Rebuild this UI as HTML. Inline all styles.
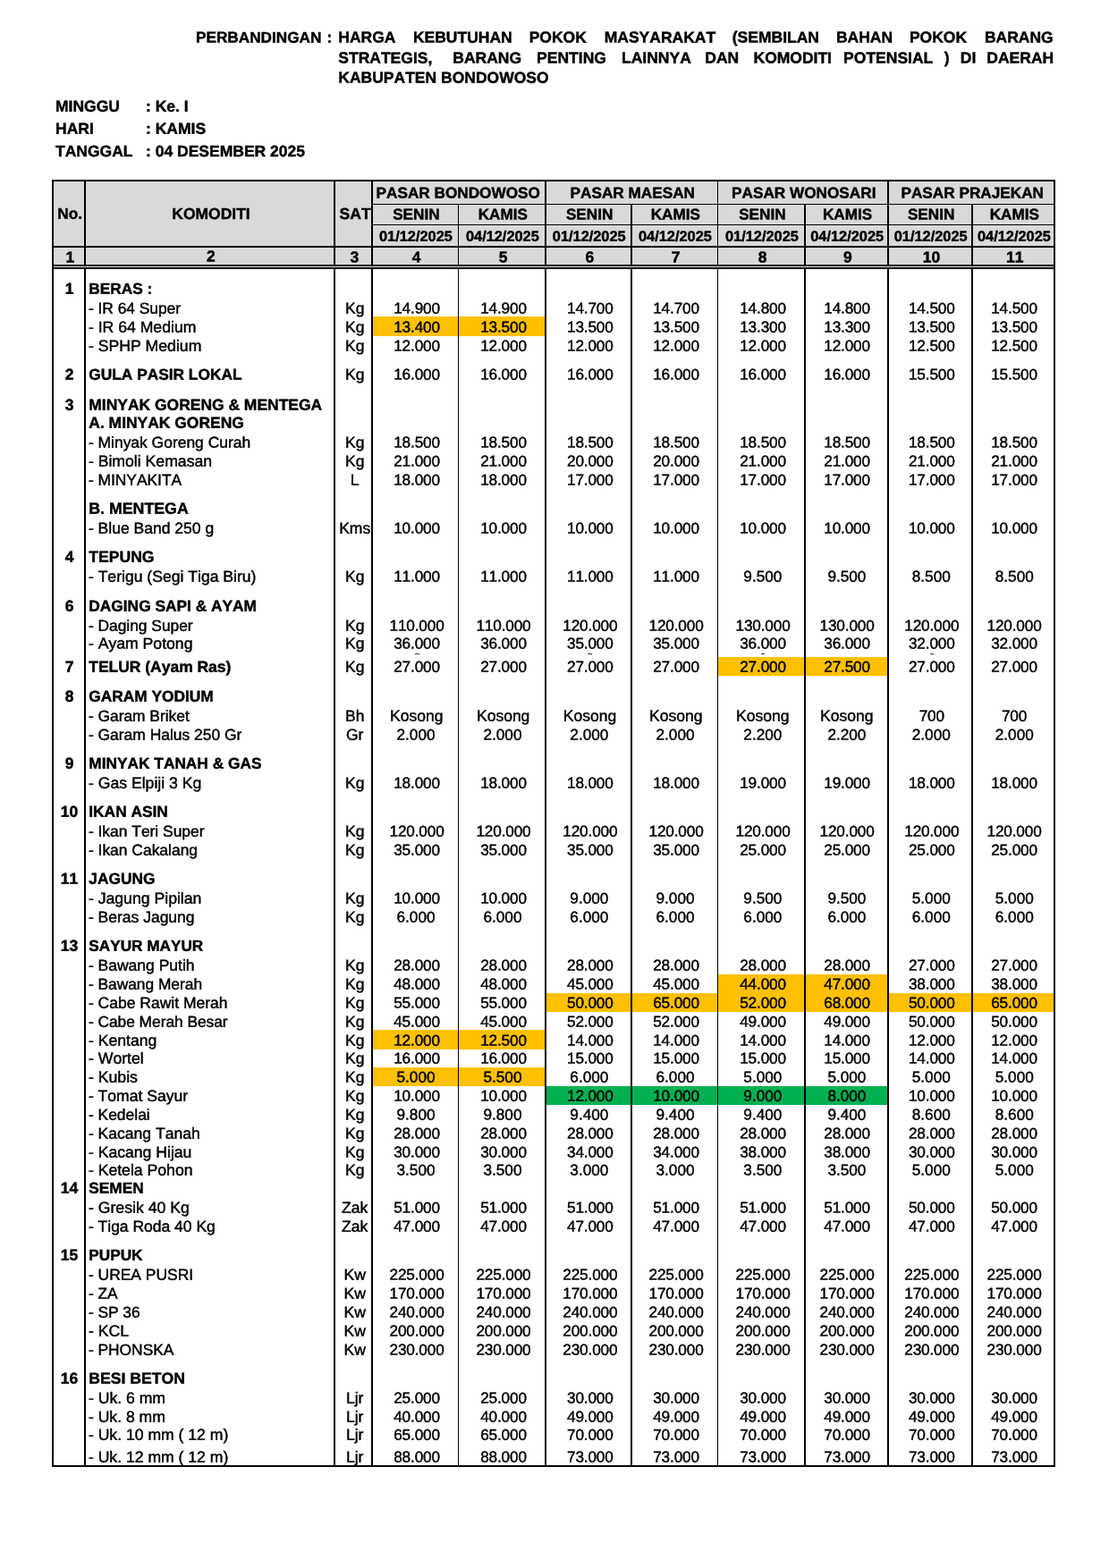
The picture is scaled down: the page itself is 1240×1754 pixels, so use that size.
<!DOCTYPE html>
<html lang="id"><head><meta charset="utf-8"><title>Perbandingan Harga Kebutuhan Pokok Masyarakat</title>
<style>
html,body{margin:0;padding:0;background:#fff}
body{width:1240px;height:1754px;position:relative;overflow:hidden;font-family:"Liberation Sans",sans-serif;color:#000;font-kerning:none;-webkit-text-stroke:0.45px #000;font-size:17.2px}
.t{position:absolute;left:0;top:0;white-space:nowrap;line-height:20px;height:20px;transform-origin:0 0}
.b{font-weight:bold}
.c{text-align:center}
.l{position:absolute;background:#000}
.bg{position:absolute}
</style></head><body>

<div class="t b" style="transform:translate(219.00px,31.60px) rotate(.03deg);font-size:17.20px;">PERBANDINGAN</div>
<div class="t b" style="transform:translate(365.40px,31.60px) rotate(.03deg);font-size:17.20px;">:</div>
<div class="t b" style="transform:translate(378.30px,31.60px) rotate(.03deg);font-size:17.50px;">HARGA</div>
<div class="t b" style="transform:translate(461.90px,31.60px) rotate(.03deg);font-size:17.50px;">KEBUTUHAN</div>
<div class="t b" style="transform:translate(591.70px,31.60px) rotate(.03deg);font-size:17.50px;">POKOK</div>
<div class="t b" style="transform:translate(675.70px,31.60px) rotate(.03deg);font-size:17.50px;">MASYARAKAT</div>
<div class="t b" style="transform:translate(818.80px,31.60px) rotate(.03deg);font-size:17.50px;">(SEMBILAN</div>
<div class="t b" style="transform:translate(934.90px,31.60px) rotate(.03deg);font-size:17.50px;">BAHAN</div>
<div class="t b" style="transform:translate(1016.90px,31.60px) rotate(.03deg);font-size:17.50px;">POKOK</div>
<div class="t b" style="transform:translate(1100.90px,31.60px) rotate(.03deg);font-size:17.50px;">BARANG</div>
<div class="t b" style="transform:translate(378.30px,54.60px) rotate(.03deg);font-size:17.50px;">STRATEGIS,</div>
<div class="t b" style="transform:translate(506.30px,54.60px) rotate(.03deg);font-size:17.50px;">BARANG</div>
<div class="t b" style="transform:translate(600.10px,54.60px) rotate(.03deg);font-size:17.50px;">PENTING</div>
<div class="t b" style="transform:translate(695.00px,54.60px) rotate(.03deg);font-size:17.50px;">LAINNYA</div>
<div class="t b" style="transform:translate(788.30px,54.60px) rotate(.03deg);font-size:17.50px;">DAN</div>
<div class="t b" style="transform:translate(842.50px,54.60px) rotate(.03deg);font-size:17.50px;">KOMODITI</div>
<div class="t b" style="transform:translate(943.10px,54.60px) rotate(.03deg);font-size:17.50px;">POTENSIAL</div>
<div class="t b" style="transform:translate(1055.80px,54.60px) rotate(.03deg);font-size:17.50px;">)</div>
<div class="t b" style="transform:translate(1073.80px,54.60px) rotate(.03deg);font-size:17.50px;">DI</div>
<div class="t b" style="transform:translate(1103.30px,54.60px) rotate(.03deg);font-size:17.50px;">DAERAH</div>
<div class="t b" style="transform:translate(378.30px,76.60px) rotate(.03deg);font-size:17.50px;">KABUPATEN BONDOWOSO</div>
<div class="t b" style="transform:translate(62.00px,108.70px) rotate(.03deg);font-size:17.50px;">MINGGU</div>
<div class="t b" style="transform:translate(163.00px,108.70px) rotate(.03deg);font-size:17.50px;">: Ke. I</div>
<div class="t b" style="transform:translate(62.00px,133.80px) rotate(.03deg);font-size:17.50px;">HARI</div>
<div class="t b" style="transform:translate(163.00px,133.80px) rotate(.03deg);font-size:17.50px;">: KAMIS</div>
<div class="t b" style="transform:translate(62.00px,158.90px) rotate(.03deg);font-size:17.50px;">TANGGAL</div>
<div class="t b" style="transform:translate(163.00px,158.90px) rotate(.03deg);font-size:17.50px;">: 04 DESEMBER 2025</div>
<div class="bg" style="left:59.00px;top:202.00px;width:1120.30px;height:95.00px;background:#d9d9d9"></div>
<div class="bg" style="left:416.00px;top:354.10px;width:193.90px;height:21.60px;background:#ffc000"></div>
<div class="bg" style="left:802.30px;top:734.60px;width:190.50px;height:21.10px;background:#ffc000"></div>
<div class="bg" style="left:802.30px;top:1089.60px;width:190.50px;height:21.10px;background:#ffc000"></div>
<div class="bg" style="left:609.90px;top:1110.60px;width:569.40px;height:21.10px;background:#ffc000"></div>
<div class="bg" style="left:416.00px;top:1151.80px;width:193.90px;height:21.90px;background:#ffc000"></div>
<div class="bg" style="left:416.00px;top:1193.60px;width:193.90px;height:21.10px;background:#ffc000"></div>
<div class="bg" style="left:609.90px;top:1214.60px;width:382.90px;height:21.10px;background:#00b050"></div>
<div class="l" style="left:58.00px;top:201.00px;width:1122.30px;height:2.00px"></div>
<div class="l" style="left:58.20px;top:201.00px;width:1.80px;height:1440.20px"></div>
<div class="l" style="left:1178.40px;top:201.00px;width:1.80px;height:1440.20px"></div>
<div class="l" style="left:58.00px;top:1639.00px;width:1122.30px;height:1.60px"></div>
<div class="l" style="left:93.90px;top:201.00px;width:1.80px;height:1440.20px"></div>
<div class="l" style="left:373.20px;top:201.00px;width:1.60px;height:1440.20px"></div>
<div class="l" style="left:415.20px;top:201.00px;width:1.60px;height:1440.20px"></div>
<div class="l" style="left:511.50px;top:228.00px;width:1.60px;height:1413.20px"></div>
<div class="l" style="left:609.10px;top:201.00px;width:1.60px;height:1440.20px"></div>
<div class="l" style="left:705.20px;top:228.00px;width:1.60px;height:1413.20px"></div>
<div class="l" style="left:801.50px;top:201.00px;width:1.60px;height:1440.20px"></div>
<div class="l" style="left:899.20px;top:228.00px;width:1.60px;height:1413.20px"></div>
<div class="l" style="left:992.00px;top:201.00px;width:1.60px;height:1440.20px"></div>
<div class="l" style="left:1086.20px;top:228.00px;width:1.60px;height:1413.20px"></div>
<div class="l" style="left:416.00px;top:227.70px;width:763.00px;height:1.40px"></div>
<div class="l" style="left:416.00px;top:250.60px;width:763.00px;height:1.50px"></div>
<div class="l" style="left:58.00px;top:275.20px;width:1122.00px;height:1.50px"></div>
<div class="l" style="left:58.00px;top:296.30px;width:1122.00px;height:1.80px"></div>
<div class="l" style="left:58.00px;top:299.30px;width:1122.00px;height:1.40px"></div>
<div class="bg" style="left:60.00px;top:298.10px;width:1118.40px;height:1.20px;background:#e9e9e9"></div>
<div class="bg" style="left:464.3px;top:731.2px;width:4.5px;height:1.3px;background:#333"></div>
<div class="bg" style="left:657.3px;top:731.2px;width:4.5px;height:1.3px;background:#333"></div>
<div class="bg" style="left:850.6px;top:731.2px;width:4.5px;height:1.3px;background:#333"></div>
<div class="bg" style="left:1039.6px;top:731.2px;width:4.5px;height:1.3px;background:#333"></div>
<div class="t b c" style="transform:translate(60.10px,228.70px) rotate(.03deg);width:36.00px;font-size:17.25px;">No.</div>
<div class="t b c" style="transform:translate(96.50px,229.00px) rotate(.03deg);width:279.00px;font-size:17.50px;">KOMODITI</div>
<div class="t b c" style="transform:translate(376.20px,229.00px) rotate(.03deg);width:42.00px;font-size:17.60px;">SAT</div>
<div class="t b c" style="transform:translate(415.30px,205.40px) rotate(.03deg);width:193.90px;font-size:17.20px;">PASAR BONDOWOSO</div>
<div class="t b c" style="transform:translate(417.20px,229.50px) rotate(.03deg);width:96.30px;font-size:17.15px;">SENIN</div>
<div class="t b c" style="transform:translate(416.80px,253.70px) rotate(.03deg);width:96.30px;font-size:16.36px;">01/12/2025</div>
<div class="t b c" style="transform:translate(513.50px,229.50px) rotate(.03deg);width:97.60px;font-size:17.15px;">KAMIS</div>
<div class="t b c" style="transform:translate(513.10px,253.70px) rotate(.03deg);width:97.60px;font-size:16.36px;">04/12/2025</div>
<div class="t b c" style="transform:translate(611.10px,205.40px) rotate(.03deg);width:192.40px;font-size:17.20px;">PASAR MAESAN</div>
<div class="t b c" style="transform:translate(611.10px,229.50px) rotate(.03deg);width:96.10px;font-size:17.15px;">SENIN</div>
<div class="t b c" style="transform:translate(610.70px,253.70px) rotate(.03deg);width:96.10px;font-size:16.36px;">01/12/2025</div>
<div class="t b c" style="transform:translate(707.20px,229.50px) rotate(.03deg);width:96.30px;font-size:17.15px;">KAMIS</div>
<div class="t b c" style="transform:translate(706.80px,253.70px) rotate(.03deg);width:96.30px;font-size:16.36px;">04/12/2025</div>
<div class="t b c" style="transform:translate(803.50px,205.40px) rotate(.03deg);width:190.50px;font-size:17.20px;">PASAR WONOSARI</div>
<div class="t b c" style="transform:translate(803.50px,229.50px) rotate(.03deg);width:97.70px;font-size:17.15px;">SENIN</div>
<div class="t b c" style="transform:translate(803.10px,253.70px) rotate(.03deg);width:97.70px;font-size:16.36px;">01/12/2025</div>
<div class="t b c" style="transform:translate(901.20px,229.50px) rotate(.03deg);width:92.80px;font-size:17.15px;">KAMIS</div>
<div class="t b c" style="transform:translate(900.80px,253.70px) rotate(.03deg);width:92.80px;font-size:16.36px;">04/12/2025</div>
<div class="t b c" style="transform:translate(994.00px,205.40px) rotate(.03deg);width:186.50px;font-size:17.20px;">PASAR PRAJEKAN</div>
<div class="t b c" style="transform:translate(994.00px,229.50px) rotate(.03deg);width:94.20px;font-size:17.15px;">SENIN</div>
<div class="t b c" style="transform:translate(993.60px,253.70px) rotate(.03deg);width:94.20px;font-size:16.36px;">01/12/2025</div>
<div class="t b c" style="transform:translate(1088.20px,229.50px) rotate(.03deg);width:92.30px;font-size:17.15px;">KAMIS</div>
<div class="t b c" style="transform:translate(1087.80px,253.70px) rotate(.03deg);width:92.30px;font-size:16.36px;">04/12/2025</div>
<div class="t b c" style="transform:translate(60.50px,277.40px) rotate(.03deg);width:36.00px;font-size:17.50px;">1</div>
<div class="t b c" style="transform:translate(96.50px,276.40px) rotate(.03deg);width:279.00px;font-size:17.50px;">2</div>
<div class="t b c" style="transform:translate(375.50px,277.40px) rotate(.03deg);width:42.00px;font-size:17.50px;">3</div>
<div class="t b c" style="transform:translate(417.50px,277.40px) rotate(.03deg);width:96.30px;font-size:17.50px;">4</div>
<div class="t b c" style="transform:translate(513.80px,277.40px) rotate(.03deg);width:97.60px;font-size:17.50px;">5</div>
<div class="t b c" style="transform:translate(611.40px,277.40px) rotate(.03deg);width:96.10px;font-size:17.50px;">6</div>
<div class="t b c" style="transform:translate(707.50px,277.40px) rotate(.03deg);width:96.30px;font-size:17.50px;">7</div>
<div class="t b c" style="transform:translate(803.80px,277.40px) rotate(.03deg);width:97.70px;font-size:17.50px;">8</div>
<div class="t b c" style="transform:translate(901.50px,277.40px) rotate(.03deg);width:92.80px;font-size:17.50px;">9</div>
<div class="t b c" style="transform:translate(994.30px,277.40px) rotate(.03deg);width:94.20px;font-size:17.50px;">10</div>
<div class="t b c" style="transform:translate(1088.50px,277.40px) rotate(.03deg);width:92.30px;font-size:17.50px;">11</div>
<div class="t b c" style="transform:translate(59.60px,312.70px) rotate(.03deg);width:36.00px;font-size:17.50px;">1</div>
<div class="t b" style="transform:translate(99.30px,312.70px) rotate(.03deg);font-size:17.28px;">BERAS :</div>
<div class="t " style="transform:translate(98.90px,334.70px) rotate(.03deg);font-size:17.35px;">- IR 64 Super</div>
<div class="t c" style="transform:translate(375.70px,334.70px) rotate(.03deg);width:42.00px;font-size:17.50px;">Kg</div>
<div class="t c" style="transform:translate(417.90px,334.60px) rotate(.03deg);width:96.30px;font-size:17.20px;letter-spacing:-0.15px;">14.900</div>
<div class="t c" style="transform:translate(514.20px,334.60px) rotate(.03deg);width:97.60px;font-size:17.20px;letter-spacing:-0.15px;">14.900</div>
<div class="t c" style="transform:translate(611.80px,334.60px) rotate(.03deg);width:96.10px;font-size:17.20px;letter-spacing:-0.15px;">14.700</div>
<div class="t c" style="transform:translate(707.90px,334.60px) rotate(.03deg);width:96.30px;font-size:17.20px;letter-spacing:-0.15px;">14.700</div>
<div class="t c" style="transform:translate(804.20px,334.60px) rotate(.03deg);width:97.70px;font-size:17.20px;letter-spacing:-0.15px;">14.800</div>
<div class="t c" style="transform:translate(900.70px,334.60px) rotate(.03deg);width:92.80px;font-size:17.20px;letter-spacing:-0.15px;">14.800</div>
<div class="t c" style="transform:translate(994.70px,334.60px) rotate(.03deg);width:94.20px;font-size:17.20px;letter-spacing:-0.15px;">14.500</div>
<div class="t c" style="transform:translate(1087.90px,334.60px) rotate(.03deg);width:92.30px;font-size:17.20px;letter-spacing:-0.15px;">14.500</div>
<div class="t " style="transform:translate(98.90px,355.70px) rotate(.03deg);font-size:17.64px;">- IR 64 Medium</div>
<div class="t c" style="transform:translate(375.70px,355.70px) rotate(.03deg);width:42.00px;font-size:17.50px;">Kg</div>
<div class="t c" style="transform:translate(417.90px,355.60px) rotate(.03deg);width:96.30px;font-size:17.20px;letter-spacing:-0.15px;">13.400</div>
<div class="t c" style="transform:translate(514.20px,355.60px) rotate(.03deg);width:97.60px;font-size:17.20px;letter-spacing:-0.15px;">13.500</div>
<div class="t c" style="transform:translate(611.80px,355.60px) rotate(.03deg);width:96.10px;font-size:17.20px;letter-spacing:-0.15px;">13.500</div>
<div class="t c" style="transform:translate(707.90px,355.60px) rotate(.03deg);width:96.30px;font-size:17.20px;letter-spacing:-0.15px;">13.500</div>
<div class="t c" style="transform:translate(804.20px,355.60px) rotate(.03deg);width:97.70px;font-size:17.20px;letter-spacing:-0.15px;">13.300</div>
<div class="t c" style="transform:translate(900.70px,355.60px) rotate(.03deg);width:92.80px;font-size:17.20px;letter-spacing:-0.15px;">13.300</div>
<div class="t c" style="transform:translate(994.70px,355.60px) rotate(.03deg);width:94.20px;font-size:17.20px;letter-spacing:-0.15px;">13.500</div>
<div class="t c" style="transform:translate(1087.90px,355.60px) rotate(.03deg);width:92.30px;font-size:17.20px;letter-spacing:-0.15px;">13.500</div>
<div class="t " style="transform:translate(98.90px,376.70px) rotate(.03deg);font-size:17.65px;">- SPHP Medium</div>
<div class="t c" style="transform:translate(375.70px,376.70px) rotate(.03deg);width:42.00px;font-size:17.50px;">Kg</div>
<div class="t c" style="transform:translate(417.90px,376.60px) rotate(.03deg);width:96.30px;font-size:17.20px;letter-spacing:-0.15px;">12.000</div>
<div class="t c" style="transform:translate(514.20px,376.60px) rotate(.03deg);width:97.60px;font-size:17.20px;letter-spacing:-0.15px;">12.000</div>
<div class="t c" style="transform:translate(611.80px,376.60px) rotate(.03deg);width:96.10px;font-size:17.20px;letter-spacing:-0.15px;">12.000</div>
<div class="t c" style="transform:translate(707.90px,376.60px) rotate(.03deg);width:96.30px;font-size:17.20px;letter-spacing:-0.15px;">12.000</div>
<div class="t c" style="transform:translate(804.20px,376.60px) rotate(.03deg);width:97.70px;font-size:17.20px;letter-spacing:-0.15px;">12.000</div>
<div class="t c" style="transform:translate(900.70px,376.60px) rotate(.03deg);width:92.80px;font-size:17.20px;letter-spacing:-0.15px;">12.000</div>
<div class="t c" style="transform:translate(994.70px,376.60px) rotate(.03deg);width:94.20px;font-size:17.20px;letter-spacing:-0.15px;">12.500</div>
<div class="t c" style="transform:translate(1087.90px,376.60px) rotate(.03deg);width:92.30px;font-size:17.20px;letter-spacing:-0.15px;">12.500</div>
<div class="t b c" style="transform:translate(59.60px,408.70px) rotate(.03deg);width:36.00px;font-size:17.50px;">2</div>
<div class="t b" style="transform:translate(99.30px,408.70px) rotate(.03deg);font-size:17.32px;">GULA PASIR LOKAL</div>
<div class="t c" style="transform:translate(375.70px,408.70px) rotate(.03deg);width:42.00px;font-size:17.50px;">Kg</div>
<div class="t c" style="transform:translate(417.90px,408.60px) rotate(.03deg);width:96.30px;font-size:17.20px;letter-spacing:-0.15px;">16.000</div>
<div class="t c" style="transform:translate(514.20px,408.60px) rotate(.03deg);width:97.60px;font-size:17.20px;letter-spacing:-0.15px;">16.000</div>
<div class="t c" style="transform:translate(611.80px,408.60px) rotate(.03deg);width:96.10px;font-size:17.20px;letter-spacing:-0.15px;">16.000</div>
<div class="t c" style="transform:translate(707.90px,408.60px) rotate(.03deg);width:96.30px;font-size:17.20px;letter-spacing:-0.15px;">16.000</div>
<div class="t c" style="transform:translate(804.20px,408.60px) rotate(.03deg);width:97.70px;font-size:17.20px;letter-spacing:-0.15px;">16.000</div>
<div class="t c" style="transform:translate(900.70px,408.60px) rotate(.03deg);width:92.80px;font-size:17.20px;letter-spacing:-0.15px;">16.000</div>
<div class="t c" style="transform:translate(994.70px,408.60px) rotate(.03deg);width:94.20px;font-size:17.20px;letter-spacing:-0.15px;">15.500</div>
<div class="t c" style="transform:translate(1087.90px,408.60px) rotate(.03deg);width:92.30px;font-size:17.20px;letter-spacing:-0.15px;">15.500</div>
<div class="t b c" style="transform:translate(59.60px,442.70px) rotate(.03deg);width:36.00px;font-size:17.50px;">3</div>
<div class="t b" style="transform:translate(99.30px,442.70px) rotate(.03deg);font-size:17.47px;">MINYAK GORENG &amp; MENTEGA</div>
<div class="t b" style="transform:translate(99.30px,462.70px) rotate(.03deg);font-size:17.45px;">A. MINYAK GORENG</div>
<div class="t " style="transform:translate(98.90px,484.70px) rotate(.03deg);font-size:17.46px;">- Minyak Goreng Curah</div>
<div class="t c" style="transform:translate(375.70px,484.70px) rotate(.03deg);width:42.00px;font-size:17.50px;">Kg</div>
<div class="t c" style="transform:translate(417.90px,484.60px) rotate(.03deg);width:96.30px;font-size:17.20px;letter-spacing:-0.15px;">18.500</div>
<div class="t c" style="transform:translate(514.20px,484.60px) rotate(.03deg);width:97.60px;font-size:17.20px;letter-spacing:-0.15px;">18.500</div>
<div class="t c" style="transform:translate(611.80px,484.60px) rotate(.03deg);width:96.10px;font-size:17.20px;letter-spacing:-0.15px;">18.500</div>
<div class="t c" style="transform:translate(707.90px,484.60px) rotate(.03deg);width:96.30px;font-size:17.20px;letter-spacing:-0.15px;">18.500</div>
<div class="t c" style="transform:translate(804.20px,484.60px) rotate(.03deg);width:97.70px;font-size:17.20px;letter-spacing:-0.15px;">18.500</div>
<div class="t c" style="transform:translate(900.70px,484.60px) rotate(.03deg);width:92.80px;font-size:17.20px;letter-spacing:-0.15px;">18.500</div>
<div class="t c" style="transform:translate(994.70px,484.60px) rotate(.03deg);width:94.20px;font-size:17.20px;letter-spacing:-0.15px;">18.500</div>
<div class="t c" style="transform:translate(1087.90px,484.60px) rotate(.03deg);width:92.30px;font-size:17.20px;letter-spacing:-0.15px;">18.500</div>
<div class="t " style="transform:translate(98.90px,505.70px) rotate(.03deg);font-size:17.65px;">- Bimoli Kemasan</div>
<div class="t c" style="transform:translate(375.70px,505.70px) rotate(.03deg);width:42.00px;font-size:17.50px;">Kg</div>
<div class="t c" style="transform:translate(417.90px,505.60px) rotate(.03deg);width:96.30px;font-size:17.20px;letter-spacing:-0.15px;">21.000</div>
<div class="t c" style="transform:translate(514.20px,505.60px) rotate(.03deg);width:97.60px;font-size:17.20px;letter-spacing:-0.15px;">21.000</div>
<div class="t c" style="transform:translate(611.80px,505.60px) rotate(.03deg);width:96.10px;font-size:17.20px;letter-spacing:-0.15px;">20.000</div>
<div class="t c" style="transform:translate(707.90px,505.60px) rotate(.03deg);width:96.30px;font-size:17.20px;letter-spacing:-0.15px;">20.000</div>
<div class="t c" style="transform:translate(804.20px,505.60px) rotate(.03deg);width:97.70px;font-size:17.20px;letter-spacing:-0.15px;">21.000</div>
<div class="t c" style="transform:translate(900.70px,505.60px) rotate(.03deg);width:92.80px;font-size:17.20px;letter-spacing:-0.15px;">21.000</div>
<div class="t c" style="transform:translate(994.70px,505.60px) rotate(.03deg);width:94.20px;font-size:17.20px;letter-spacing:-0.15px;">21.000</div>
<div class="t c" style="transform:translate(1087.90px,505.60px) rotate(.03deg);width:92.30px;font-size:17.20px;letter-spacing:-0.15px;">21.000</div>
<div class="t " style="transform:translate(98.90px,526.70px) rotate(.03deg);font-size:17.39px;">- MINYAKITA</div>
<div class="t c" style="transform:translate(375.70px,526.70px) rotate(.03deg);width:42.00px;font-size:17.50px;">L</div>
<div class="t c" style="transform:translate(417.90px,526.60px) rotate(.03deg);width:96.30px;font-size:17.20px;letter-spacing:-0.15px;">18.000</div>
<div class="t c" style="transform:translate(514.20px,526.60px) rotate(.03deg);width:97.60px;font-size:17.20px;letter-spacing:-0.15px;">18.000</div>
<div class="t c" style="transform:translate(611.80px,526.60px) rotate(.03deg);width:96.10px;font-size:17.20px;letter-spacing:-0.15px;">17.000</div>
<div class="t c" style="transform:translate(707.90px,526.60px) rotate(.03deg);width:96.30px;font-size:17.20px;letter-spacing:-0.15px;">17.000</div>
<div class="t c" style="transform:translate(804.20px,526.60px) rotate(.03deg);width:97.70px;font-size:17.20px;letter-spacing:-0.15px;">17.000</div>
<div class="t c" style="transform:translate(900.70px,526.60px) rotate(.03deg);width:92.80px;font-size:17.20px;letter-spacing:-0.15px;">17.000</div>
<div class="t c" style="transform:translate(994.70px,526.60px) rotate(.03deg);width:94.20px;font-size:17.20px;letter-spacing:-0.15px;">17.000</div>
<div class="t c" style="transform:translate(1087.90px,526.60px) rotate(.03deg);width:92.30px;font-size:17.20px;letter-spacing:-0.15px;">17.000</div>
<div class="t b" style="transform:translate(99.30px,558.70px) rotate(.03deg);font-size:17.75px;">B. MENTEGA</div>
<div class="t " style="transform:translate(98.90px,580.70px) rotate(.03deg);font-size:17.52px;">- Blue Band 250 g</div>
<div class="t c" style="transform:translate(375.70px,580.70px) rotate(.03deg);width:42.00px;font-size:17.50px;">Kms</div>
<div class="t c" style="transform:translate(417.90px,580.60px) rotate(.03deg);width:96.30px;font-size:17.20px;letter-spacing:-0.15px;">10.000</div>
<div class="t c" style="transform:translate(514.20px,580.60px) rotate(.03deg);width:97.60px;font-size:17.20px;letter-spacing:-0.15px;">10.000</div>
<div class="t c" style="transform:translate(611.80px,580.60px) rotate(.03deg);width:96.10px;font-size:17.20px;letter-spacing:-0.15px;">10.000</div>
<div class="t c" style="transform:translate(707.90px,580.60px) rotate(.03deg);width:96.30px;font-size:17.20px;letter-spacing:-0.15px;">10.000</div>
<div class="t c" style="transform:translate(804.20px,580.60px) rotate(.03deg);width:97.70px;font-size:17.20px;letter-spacing:-0.15px;">10.000</div>
<div class="t c" style="transform:translate(900.70px,580.60px) rotate(.03deg);width:92.80px;font-size:17.20px;letter-spacing:-0.15px;">10.000</div>
<div class="t c" style="transform:translate(994.70px,580.60px) rotate(.03deg);width:94.20px;font-size:17.20px;letter-spacing:-0.15px;">10.000</div>
<div class="t c" style="transform:translate(1087.90px,580.60px) rotate(.03deg);width:92.30px;font-size:17.20px;letter-spacing:-0.15px;">10.000</div>
<div class="t b c" style="transform:translate(59.60px,612.70px) rotate(.03deg);width:36.00px;font-size:17.50px;">4</div>
<div class="t b" style="transform:translate(99.30px,612.70px) rotate(.03deg);font-size:17.58px;">TEPUNG</div>
<div class="t " style="transform:translate(98.90px,634.70px) rotate(.03deg);font-size:17.58px;">- Terigu (Segi Tiga Biru)</div>
<div class="t c" style="transform:translate(375.70px,634.70px) rotate(.03deg);width:42.00px;font-size:17.50px;">Kg</div>
<div class="t c" style="transform:translate(417.90px,634.60px) rotate(.03deg);width:96.30px;font-size:17.20px;letter-spacing:-0.15px;">11.000</div>
<div class="t c" style="transform:translate(514.20px,634.60px) rotate(.03deg);width:97.60px;font-size:17.20px;letter-spacing:-0.15px;">11.000</div>
<div class="t c" style="transform:translate(611.80px,634.60px) rotate(.03deg);width:96.10px;font-size:17.20px;letter-spacing:-0.15px;">11.000</div>
<div class="t c" style="transform:translate(707.90px,634.60px) rotate(.03deg);width:96.30px;font-size:17.20px;letter-spacing:-0.15px;">11.000</div>
<div class="t c" style="transform:translate(804.00px,634.60px) rotate(.03deg);width:97.70px;font-size:17.20px;">9.500</div>
<div class="t c" style="transform:translate(900.50px,634.60px) rotate(.03deg);width:92.80px;font-size:17.20px;">9.500</div>
<div class="t c" style="transform:translate(994.20px,634.60px) rotate(.03deg);width:94.20px;font-size:17.20px;">8.500</div>
<div class="t c" style="transform:translate(1088.10px,634.60px) rotate(.03deg);width:92.30px;font-size:17.20px;">8.500</div>
<div class="t b c" style="transform:translate(59.60px,667.70px) rotate(.03deg);width:36.00px;font-size:17.50px;">6</div>
<div class="t b" style="transform:translate(99.30px,667.70px) rotate(.03deg);font-size:17.33px;">DAGING SAPI &amp; AYAM</div>
<div class="t " style="transform:translate(98.90px,689.70px) rotate(.03deg);font-size:17.38px;">- Daging Super</div>
<div class="t c" style="transform:translate(375.70px,689.70px) rotate(.03deg);width:42.00px;font-size:17.50px;">Kg</div>
<div class="t c" style="transform:translate(417.90px,689.60px) rotate(.03deg);width:96.30px;font-size:17.20px;letter-spacing:-0.15px;">110.000</div>
<div class="t c" style="transform:translate(514.20px,689.60px) rotate(.03deg);width:97.60px;font-size:17.20px;letter-spacing:-0.15px;">110.000</div>
<div class="t c" style="transform:translate(611.80px,689.60px) rotate(.03deg);width:96.10px;font-size:17.20px;letter-spacing:-0.15px;">120.000</div>
<div class="t c" style="transform:translate(707.90px,689.60px) rotate(.03deg);width:96.30px;font-size:17.20px;letter-spacing:-0.15px;">120.000</div>
<div class="t c" style="transform:translate(804.20px,689.60px) rotate(.03deg);width:97.70px;font-size:17.20px;letter-spacing:-0.15px;">130.000</div>
<div class="t c" style="transform:translate(900.70px,689.60px) rotate(.03deg);width:92.80px;font-size:17.20px;letter-spacing:-0.15px;">130.000</div>
<div class="t c" style="transform:translate(994.70px,689.60px) rotate(.03deg);width:94.20px;font-size:17.20px;letter-spacing:-0.15px;">120.000</div>
<div class="t c" style="transform:translate(1087.90px,689.60px) rotate(.03deg);width:92.30px;font-size:17.20px;letter-spacing:-0.15px;">120.000</div>
<div class="t " style="transform:translate(98.90px,709.60px) rotate(.03deg);font-size:17.64px;">- Ayam Potong</div>
<div class="t c" style="transform:translate(375.70px,709.60px) rotate(.03deg);width:42.00px;font-size:17.50px;">Kg</div>
<div class="t c" style="transform:translate(417.90px,709.50px) rotate(.03deg);width:96.30px;font-size:17.20px;letter-spacing:-0.15px;">36.000</div>
<div class="t c" style="transform:translate(514.20px,709.50px) rotate(.03deg);width:97.60px;font-size:17.20px;letter-spacing:-0.15px;">36.000</div>
<div class="t c" style="transform:translate(611.80px,709.50px) rotate(.03deg);width:96.10px;font-size:17.20px;letter-spacing:-0.15px;">35.000</div>
<div class="t c" style="transform:translate(707.90px,709.50px) rotate(.03deg);width:96.30px;font-size:17.20px;letter-spacing:-0.15px;">35.000</div>
<div class="t c" style="transform:translate(804.20px,709.50px) rotate(.03deg);width:97.70px;font-size:17.20px;letter-spacing:-0.15px;">36.000</div>
<div class="t c" style="transform:translate(900.70px,709.50px) rotate(.03deg);width:92.80px;font-size:17.20px;letter-spacing:-0.15px;">36.000</div>
<div class="t c" style="transform:translate(994.70px,709.50px) rotate(.03deg);width:94.20px;font-size:17.20px;letter-spacing:-0.15px;">32.000</div>
<div class="t c" style="transform:translate(1087.90px,709.50px) rotate(.03deg);width:92.30px;font-size:17.20px;letter-spacing:-0.15px;">32.000</div>
<div class="t b c" style="transform:translate(59.60px,735.70px) rotate(.03deg);width:36.00px;font-size:17.50px;">7</div>
<div class="t b" style="transform:translate(99.30px,735.70px) rotate(.03deg);font-size:17.45px;">TELUR (Ayam Ras)</div>
<div class="t c" style="transform:translate(375.70px,735.70px) rotate(.03deg);width:42.00px;font-size:17.50px;">Kg</div>
<div class="t c" style="transform:translate(417.90px,735.60px) rotate(.03deg);width:96.30px;font-size:17.20px;letter-spacing:-0.15px;">27.000</div>
<div class="t c" style="transform:translate(514.20px,735.60px) rotate(.03deg);width:97.60px;font-size:17.20px;letter-spacing:-0.15px;">27.000</div>
<div class="t c" style="transform:translate(611.80px,735.60px) rotate(.03deg);width:96.10px;font-size:17.20px;letter-spacing:-0.15px;">27.000</div>
<div class="t c" style="transform:translate(707.90px,735.60px) rotate(.03deg);width:96.30px;font-size:17.20px;letter-spacing:-0.15px;">27.000</div>
<div class="t c" style="transform:translate(804.20px,735.60px) rotate(.03deg);width:97.70px;font-size:17.20px;letter-spacing:-0.15px;">27.000</div>
<div class="t c" style="transform:translate(900.70px,735.60px) rotate(.03deg);width:92.80px;font-size:17.20px;letter-spacing:-0.15px;">27.500</div>
<div class="t c" style="transform:translate(994.70px,735.60px) rotate(.03deg);width:94.20px;font-size:17.20px;letter-spacing:-0.15px;">27.000</div>
<div class="t c" style="transform:translate(1087.90px,735.60px) rotate(.03deg);width:92.30px;font-size:17.20px;letter-spacing:-0.15px;">27.000</div>
<div class="t b c" style="transform:translate(59.60px,768.70px) rotate(.03deg);width:36.00px;font-size:17.50px;">8</div>
<div class="t b" style="transform:translate(99.30px,768.70px) rotate(.03deg);font-size:17.32px;">GARAM YODIUM</div>
<div class="t " style="transform:translate(98.90px,790.70px) rotate(.03deg);font-size:17.38px;">- Garam Briket</div>
<div class="t c" style="transform:translate(375.70px,790.70px) rotate(.03deg);width:42.00px;font-size:17.50px;">Bh</div>
<div class="t c" style="transform:translate(417.60px,790.60px) rotate(.03deg);width:96.30px;font-size:17.50px;">Kosong</div>
<div class="t c" style="transform:translate(513.90px,790.60px) rotate(.03deg);width:97.60px;font-size:17.50px;">Kosong</div>
<div class="t c" style="transform:translate(611.50px,790.60px) rotate(.03deg);width:96.10px;font-size:17.50px;">Kosong</div>
<div class="t c" style="transform:translate(707.60px,790.60px) rotate(.03deg);width:96.30px;font-size:17.50px;">Kosong</div>
<div class="t c" style="transform:translate(803.90px,790.60px) rotate(.03deg);width:97.70px;font-size:17.50px;">Kosong</div>
<div class="t c" style="transform:translate(900.40px,790.60px) rotate(.03deg);width:92.80px;font-size:17.50px;">Kosong</div>
<div class="t c" style="transform:translate(994.70px,790.60px) rotate(.03deg);width:94.20px;font-size:17.20px;letter-spacing:-0.15px;">700</div>
<div class="t c" style="transform:translate(1087.90px,790.60px) rotate(.03deg);width:92.30px;font-size:17.20px;letter-spacing:-0.15px;">700</div>
<div class="t " style="transform:translate(98.90px,811.70px) rotate(.03deg);font-size:17.47px;">- Garam Halus 250 Gr</div>
<div class="t c" style="transform:translate(375.70px,811.70px) rotate(.03deg);width:42.00px;font-size:17.50px;">Gr</div>
<div class="t c" style="transform:translate(416.90px,811.60px) rotate(.03deg);width:96.30px;font-size:17.20px;">2.000</div>
<div class="t c" style="transform:translate(513.20px,811.60px) rotate(.03deg);width:97.60px;font-size:17.20px;">2.000</div>
<div class="t c" style="transform:translate(610.80px,811.60px) rotate(.03deg);width:96.10px;font-size:17.20px;">2.000</div>
<div class="t c" style="transform:translate(706.90px,811.60px) rotate(.03deg);width:96.30px;font-size:17.20px;">2.000</div>
<div class="t c" style="transform:translate(804.00px,811.60px) rotate(.03deg);width:97.70px;font-size:17.20px;">2.200</div>
<div class="t c" style="transform:translate(900.50px,811.60px) rotate(.03deg);width:92.80px;font-size:17.20px;">2.200</div>
<div class="t c" style="transform:translate(994.20px,811.60px) rotate(.03deg);width:94.20px;font-size:17.20px;">2.000</div>
<div class="t c" style="transform:translate(1088.10px,811.60px) rotate(.03deg);width:92.30px;font-size:17.20px;">2.000</div>
<div class="t b c" style="transform:translate(59.60px,843.70px) rotate(.03deg);width:36.00px;font-size:17.50px;">9</div>
<div class="t b" style="transform:translate(99.30px,843.70px) rotate(.03deg);font-size:17.31px;">MINYAK TANAH &amp; GAS</div>
<div class="t " style="transform:translate(98.90px,865.70px) rotate(.03deg);font-size:17.65px;">- Gas Elpiji 3 Kg</div>
<div class="t c" style="transform:translate(375.70px,865.70px) rotate(.03deg);width:42.00px;font-size:17.50px;">Kg</div>
<div class="t c" style="transform:translate(417.90px,865.60px) rotate(.03deg);width:96.30px;font-size:17.20px;letter-spacing:-0.15px;">18.000</div>
<div class="t c" style="transform:translate(514.20px,865.60px) rotate(.03deg);width:97.60px;font-size:17.20px;letter-spacing:-0.15px;">18.000</div>
<div class="t c" style="transform:translate(611.80px,865.60px) rotate(.03deg);width:96.10px;font-size:17.20px;letter-spacing:-0.15px;">18.000</div>
<div class="t c" style="transform:translate(707.90px,865.60px) rotate(.03deg);width:96.30px;font-size:17.20px;letter-spacing:-0.15px;">18.000</div>
<div class="t c" style="transform:translate(804.20px,865.60px) rotate(.03deg);width:97.70px;font-size:17.20px;letter-spacing:-0.15px;">19.000</div>
<div class="t c" style="transform:translate(900.70px,865.60px) rotate(.03deg);width:92.80px;font-size:17.20px;letter-spacing:-0.15px;">19.000</div>
<div class="t c" style="transform:translate(994.70px,865.60px) rotate(.03deg);width:94.20px;font-size:17.20px;letter-spacing:-0.15px;">18.000</div>
<div class="t c" style="transform:translate(1087.90px,865.60px) rotate(.03deg);width:92.30px;font-size:17.20px;letter-spacing:-0.15px;">18.000</div>
<div class="t b c" style="transform:translate(59.60px,897.70px) rotate(.03deg);width:36.00px;font-size:17.50px;">10</div>
<div class="t b" style="transform:translate(99.30px,897.70px) rotate(.03deg);font-size:17.34px;">IKAN ASIN</div>
<div class="t " style="transform:translate(98.90px,919.70px) rotate(.03deg);font-size:17.41px;">- Ikan Teri Super</div>
<div class="t c" style="transform:translate(375.70px,919.70px) rotate(.03deg);width:42.00px;font-size:17.50px;">Kg</div>
<div class="t c" style="transform:translate(417.90px,919.60px) rotate(.03deg);width:96.30px;font-size:17.20px;letter-spacing:-0.15px;">120.000</div>
<div class="t c" style="transform:translate(514.20px,919.60px) rotate(.03deg);width:97.60px;font-size:17.20px;letter-spacing:-0.15px;">120.000</div>
<div class="t c" style="transform:translate(611.80px,919.60px) rotate(.03deg);width:96.10px;font-size:17.20px;letter-spacing:-0.15px;">120.000</div>
<div class="t c" style="transform:translate(707.90px,919.60px) rotate(.03deg);width:96.30px;font-size:17.20px;letter-spacing:-0.15px;">120.000</div>
<div class="t c" style="transform:translate(804.20px,919.60px) rotate(.03deg);width:97.70px;font-size:17.20px;letter-spacing:-0.15px;">120.000</div>
<div class="t c" style="transform:translate(900.70px,919.60px) rotate(.03deg);width:92.80px;font-size:17.20px;letter-spacing:-0.15px;">120.000</div>
<div class="t c" style="transform:translate(994.70px,919.60px) rotate(.03deg);width:94.20px;font-size:17.20px;letter-spacing:-0.15px;">120.000</div>
<div class="t c" style="transform:translate(1087.90px,919.60px) rotate(.03deg);width:92.30px;font-size:17.20px;letter-spacing:-0.15px;">120.000</div>
<div class="t " style="transform:translate(98.90px,940.70px) rotate(.03deg);font-size:17.46px;">- Ikan Cakalang</div>
<div class="t c" style="transform:translate(375.70px,940.70px) rotate(.03deg);width:42.00px;font-size:17.50px;">Kg</div>
<div class="t c" style="transform:translate(417.90px,940.60px) rotate(.03deg);width:96.30px;font-size:17.20px;letter-spacing:-0.15px;">35.000</div>
<div class="t c" style="transform:translate(514.20px,940.60px) rotate(.03deg);width:97.60px;font-size:17.20px;letter-spacing:-0.15px;">35.000</div>
<div class="t c" style="transform:translate(611.80px,940.60px) rotate(.03deg);width:96.10px;font-size:17.20px;letter-spacing:-0.15px;">35.000</div>
<div class="t c" style="transform:translate(707.90px,940.60px) rotate(.03deg);width:96.30px;font-size:17.20px;letter-spacing:-0.15px;">35.000</div>
<div class="t c" style="transform:translate(804.20px,940.60px) rotate(.03deg);width:97.70px;font-size:17.20px;letter-spacing:-0.15px;">25.000</div>
<div class="t c" style="transform:translate(900.70px,940.60px) rotate(.03deg);width:92.80px;font-size:17.20px;letter-spacing:-0.15px;">25.000</div>
<div class="t c" style="transform:translate(994.70px,940.60px) rotate(.03deg);width:94.20px;font-size:17.20px;letter-spacing:-0.15px;">25.000</div>
<div class="t c" style="transform:translate(1087.90px,940.60px) rotate(.03deg);width:92.30px;font-size:17.20px;letter-spacing:-0.15px;">25.000</div>
<div class="t b c" style="transform:translate(59.60px,972.70px) rotate(.03deg);width:36.00px;font-size:17.50px;">11</div>
<div class="t b" style="transform:translate(99.30px,972.70px) rotate(.03deg);font-size:17.33px;">JAGUNG</div>
<div class="t " style="transform:translate(98.90px,994.70px) rotate(.03deg);font-size:17.65px;">- Jagung Pipilan</div>
<div class="t c" style="transform:translate(375.70px,994.70px) rotate(.03deg);width:42.00px;font-size:17.50px;">Kg</div>
<div class="t c" style="transform:translate(417.90px,994.60px) rotate(.03deg);width:96.30px;font-size:17.20px;letter-spacing:-0.15px;">10.000</div>
<div class="t c" style="transform:translate(514.20px,994.60px) rotate(.03deg);width:97.60px;font-size:17.20px;letter-spacing:-0.15px;">10.000</div>
<div class="t c" style="transform:translate(610.80px,994.60px) rotate(.03deg);width:96.10px;font-size:17.20px;">9.000</div>
<div class="t c" style="transform:translate(706.90px,994.60px) rotate(.03deg);width:96.30px;font-size:17.20px;">9.000</div>
<div class="t c" style="transform:translate(804.00px,994.60px) rotate(.03deg);width:97.70px;font-size:17.20px;">9.500</div>
<div class="t c" style="transform:translate(900.50px,994.60px) rotate(.03deg);width:92.80px;font-size:17.20px;">9.500</div>
<div class="t c" style="transform:translate(994.20px,994.60px) rotate(.03deg);width:94.20px;font-size:17.20px;">5.000</div>
<div class="t c" style="transform:translate(1088.10px,994.60px) rotate(.03deg);width:92.30px;font-size:17.20px;">5.000</div>
<div class="t " style="transform:translate(98.90px,1015.70px) rotate(.03deg);font-size:17.50px;">- Beras Jagung</div>
<div class="t c" style="transform:translate(375.70px,1015.70px) rotate(.03deg);width:42.00px;font-size:17.50px;">Kg</div>
<div class="t c" style="transform:translate(416.90px,1015.60px) rotate(.03deg);width:96.30px;font-size:17.20px;">6.000</div>
<div class="t c" style="transform:translate(513.20px,1015.60px) rotate(.03deg);width:97.60px;font-size:17.20px;">6.000</div>
<div class="t c" style="transform:translate(610.80px,1015.60px) rotate(.03deg);width:96.10px;font-size:17.20px;">6.000</div>
<div class="t c" style="transform:translate(706.90px,1015.60px) rotate(.03deg);width:96.30px;font-size:17.20px;">6.000</div>
<div class="t c" style="transform:translate(804.00px,1015.60px) rotate(.03deg);width:97.70px;font-size:17.20px;">6.000</div>
<div class="t c" style="transform:translate(900.50px,1015.60px) rotate(.03deg);width:92.80px;font-size:17.20px;">6.000</div>
<div class="t c" style="transform:translate(994.20px,1015.60px) rotate(.03deg);width:94.20px;font-size:17.20px;">6.000</div>
<div class="t c" style="transform:translate(1088.10px,1015.60px) rotate(.03deg);width:92.30px;font-size:17.20px;">6.000</div>
<div class="t b c" style="transform:translate(59.60px,1047.70px) rotate(.03deg);width:36.00px;font-size:17.50px;">13</div>
<div class="t b" style="transform:translate(99.30px,1047.70px) rotate(.03deg);font-size:17.21px;">SAYUR MAYUR</div>
<div class="t " style="transform:translate(98.90px,1069.70px) rotate(.03deg);font-size:17.50px;">- Bawang Putih</div>
<div class="t c" style="transform:translate(375.70px,1069.70px) rotate(.03deg);width:42.00px;font-size:17.50px;">Kg</div>
<div class="t c" style="transform:translate(417.90px,1069.60px) rotate(.03deg);width:96.30px;font-size:17.20px;letter-spacing:-0.15px;">28.000</div>
<div class="t c" style="transform:translate(514.20px,1069.60px) rotate(.03deg);width:97.60px;font-size:17.20px;letter-spacing:-0.15px;">28.000</div>
<div class="t c" style="transform:translate(611.80px,1069.60px) rotate(.03deg);width:96.10px;font-size:17.20px;letter-spacing:-0.15px;">28.000</div>
<div class="t c" style="transform:translate(707.90px,1069.60px) rotate(.03deg);width:96.30px;font-size:17.20px;letter-spacing:-0.15px;">28.000</div>
<div class="t c" style="transform:translate(804.20px,1069.60px) rotate(.03deg);width:97.70px;font-size:17.20px;letter-spacing:-0.15px;">28.000</div>
<div class="t c" style="transform:translate(900.70px,1069.60px) rotate(.03deg);width:92.80px;font-size:17.20px;letter-spacing:-0.15px;">28.000</div>
<div class="t c" style="transform:translate(994.70px,1069.60px) rotate(.03deg);width:94.20px;font-size:17.20px;letter-spacing:-0.15px;">27.000</div>
<div class="t c" style="transform:translate(1087.90px,1069.60px) rotate(.03deg);width:92.30px;font-size:17.20px;letter-spacing:-0.15px;">27.000</div>
<div class="t " style="transform:translate(98.90px,1090.70px) rotate(.03deg);font-size:17.34px;">- Bawang Merah</div>
<div class="t c" style="transform:translate(375.70px,1090.70px) rotate(.03deg);width:42.00px;font-size:17.50px;">Kg</div>
<div class="t c" style="transform:translate(417.90px,1090.60px) rotate(.03deg);width:96.30px;font-size:17.20px;letter-spacing:-0.15px;">48.000</div>
<div class="t c" style="transform:translate(514.20px,1090.60px) rotate(.03deg);width:97.60px;font-size:17.20px;letter-spacing:-0.15px;">48.000</div>
<div class="t c" style="transform:translate(611.80px,1090.60px) rotate(.03deg);width:96.10px;font-size:17.20px;letter-spacing:-0.15px;">45.000</div>
<div class="t c" style="transform:translate(707.90px,1090.60px) rotate(.03deg);width:96.30px;font-size:17.20px;letter-spacing:-0.15px;">45.000</div>
<div class="t c" style="transform:translate(804.20px,1090.60px) rotate(.03deg);width:97.70px;font-size:17.20px;letter-spacing:-0.15px;">44.000</div>
<div class="t c" style="transform:translate(900.70px,1090.60px) rotate(.03deg);width:92.80px;font-size:17.20px;letter-spacing:-0.15px;">47.000</div>
<div class="t c" style="transform:translate(994.70px,1090.60px) rotate(.03deg);width:94.20px;font-size:17.20px;letter-spacing:-0.15px;">38.000</div>
<div class="t c" style="transform:translate(1087.90px,1090.60px) rotate(.03deg);width:92.30px;font-size:17.20px;letter-spacing:-0.15px;">38.000</div>
<div class="t " style="transform:translate(98.90px,1111.70px) rotate(.03deg);font-size:17.51px;">- Cabe Rawit Merah</div>
<div class="t c" style="transform:translate(375.70px,1111.70px) rotate(.03deg);width:42.00px;font-size:17.50px;">Kg</div>
<div class="t c" style="transform:translate(417.90px,1111.60px) rotate(.03deg);width:96.30px;font-size:17.20px;letter-spacing:-0.15px;">55.000</div>
<div class="t c" style="transform:translate(514.20px,1111.60px) rotate(.03deg);width:97.60px;font-size:17.20px;letter-spacing:-0.15px;">55.000</div>
<div class="t c" style="transform:translate(611.80px,1111.60px) rotate(.03deg);width:96.10px;font-size:17.20px;letter-spacing:-0.15px;">50.000</div>
<div class="t c" style="transform:translate(707.90px,1111.60px) rotate(.03deg);width:96.30px;font-size:17.20px;letter-spacing:-0.15px;">65.000</div>
<div class="t c" style="transform:translate(804.20px,1111.60px) rotate(.03deg);width:97.70px;font-size:17.20px;letter-spacing:-0.15px;">52.000</div>
<div class="t c" style="transform:translate(900.70px,1111.60px) rotate(.03deg);width:92.80px;font-size:17.20px;letter-spacing:-0.15px;">68.000</div>
<div class="t c" style="transform:translate(994.70px,1111.60px) rotate(.03deg);width:94.20px;font-size:17.20px;letter-spacing:-0.15px;">50.000</div>
<div class="t c" style="transform:translate(1087.90px,1111.60px) rotate(.03deg);width:92.30px;font-size:17.20px;letter-spacing:-0.15px;">65.000</div>
<div class="t " style="transform:translate(98.90px,1132.70px) rotate(.03deg);font-size:17.31px;">- Cabe Merah Besar</div>
<div class="t c" style="transform:translate(375.70px,1132.70px) rotate(.03deg);width:42.00px;font-size:17.50px;">Kg</div>
<div class="t c" style="transform:translate(417.90px,1132.60px) rotate(.03deg);width:96.30px;font-size:17.20px;letter-spacing:-0.15px;">45.000</div>
<div class="t c" style="transform:translate(514.20px,1132.60px) rotate(.03deg);width:97.60px;font-size:17.20px;letter-spacing:-0.15px;">45.000</div>
<div class="t c" style="transform:translate(611.80px,1132.60px) rotate(.03deg);width:96.10px;font-size:17.20px;letter-spacing:-0.15px;">52.000</div>
<div class="t c" style="transform:translate(707.90px,1132.60px) rotate(.03deg);width:96.30px;font-size:17.20px;letter-spacing:-0.15px;">52.000</div>
<div class="t c" style="transform:translate(804.20px,1132.60px) rotate(.03deg);width:97.70px;font-size:17.20px;letter-spacing:-0.15px;">49.000</div>
<div class="t c" style="transform:translate(900.70px,1132.60px) rotate(.03deg);width:92.80px;font-size:17.20px;letter-spacing:-0.15px;">49.000</div>
<div class="t c" style="transform:translate(994.70px,1132.60px) rotate(.03deg);width:94.20px;font-size:17.20px;letter-spacing:-0.15px;">50.000</div>
<div class="t c" style="transform:translate(1087.90px,1132.60px) rotate(.03deg);width:92.30px;font-size:17.20px;letter-spacing:-0.15px;">50.000</div>
<div class="t " style="transform:translate(98.90px,1153.70px) rotate(.03deg);font-size:17.64px;">- Kentang</div>
<div class="t c" style="transform:translate(375.70px,1153.70px) rotate(.03deg);width:42.00px;font-size:17.50px;">Kg</div>
<div class="t c" style="transform:translate(417.90px,1153.60px) rotate(.03deg);width:96.30px;font-size:17.20px;letter-spacing:-0.15px;">12.000</div>
<div class="t c" style="transform:translate(514.20px,1153.60px) rotate(.03deg);width:97.60px;font-size:17.20px;letter-spacing:-0.15px;">12.500</div>
<div class="t c" style="transform:translate(611.80px,1153.60px) rotate(.03deg);width:96.10px;font-size:17.20px;letter-spacing:-0.15px;">14.000</div>
<div class="t c" style="transform:translate(707.90px,1153.60px) rotate(.03deg);width:96.30px;font-size:17.20px;letter-spacing:-0.15px;">14.000</div>
<div class="t c" style="transform:translate(804.20px,1153.60px) rotate(.03deg);width:97.70px;font-size:17.20px;letter-spacing:-0.15px;">14.000</div>
<div class="t c" style="transform:translate(900.70px,1153.60px) rotate(.03deg);width:92.80px;font-size:17.20px;letter-spacing:-0.15px;">14.000</div>
<div class="t c" style="transform:translate(994.70px,1153.60px) rotate(.03deg);width:94.20px;font-size:17.20px;letter-spacing:-0.15px;">12.000</div>
<div class="t c" style="transform:translate(1087.90px,1153.60px) rotate(.03deg);width:92.30px;font-size:17.20px;letter-spacing:-0.15px;">12.000</div>
<div class="t " style="transform:translate(98.90px,1173.70px) rotate(.03deg);font-size:17.70px;">- Wortel</div>
<div class="t c" style="transform:translate(375.70px,1173.70px) rotate(.03deg);width:42.00px;font-size:17.50px;">Kg</div>
<div class="t c" style="transform:translate(417.90px,1173.60px) rotate(.03deg);width:96.30px;font-size:17.20px;letter-spacing:-0.15px;">16.000</div>
<div class="t c" style="transform:translate(514.20px,1173.60px) rotate(.03deg);width:97.60px;font-size:17.20px;letter-spacing:-0.15px;">16.000</div>
<div class="t c" style="transform:translate(611.80px,1173.60px) rotate(.03deg);width:96.10px;font-size:17.20px;letter-spacing:-0.15px;">15.000</div>
<div class="t c" style="transform:translate(707.90px,1173.60px) rotate(.03deg);width:96.30px;font-size:17.20px;letter-spacing:-0.15px;">15.000</div>
<div class="t c" style="transform:translate(804.20px,1173.60px) rotate(.03deg);width:97.70px;font-size:17.20px;letter-spacing:-0.15px;">15.000</div>
<div class="t c" style="transform:translate(900.70px,1173.60px) rotate(.03deg);width:92.80px;font-size:17.20px;letter-spacing:-0.15px;">15.000</div>
<div class="t c" style="transform:translate(994.70px,1173.60px) rotate(.03deg);width:94.20px;font-size:17.20px;letter-spacing:-0.15px;">14.000</div>
<div class="t c" style="transform:translate(1087.90px,1173.60px) rotate(.03deg);width:92.30px;font-size:17.20px;letter-spacing:-0.15px;">14.000</div>
<div class="t " style="transform:translate(98.90px,1194.70px) rotate(.03deg);font-size:17.71px;">- Kubis</div>
<div class="t c" style="transform:translate(375.70px,1194.70px) rotate(.03deg);width:42.00px;font-size:17.50px;">Kg</div>
<div class="t c" style="transform:translate(416.90px,1194.60px) rotate(.03deg);width:96.30px;font-size:17.20px;">5.000</div>
<div class="t c" style="transform:translate(513.20px,1194.60px) rotate(.03deg);width:97.60px;font-size:17.20px;">5.500</div>
<div class="t c" style="transform:translate(610.80px,1194.60px) rotate(.03deg);width:96.10px;font-size:17.20px;">6.000</div>
<div class="t c" style="transform:translate(706.90px,1194.60px) rotate(.03deg);width:96.30px;font-size:17.20px;">6.000</div>
<div class="t c" style="transform:translate(804.00px,1194.60px) rotate(.03deg);width:97.70px;font-size:17.20px;">5.000</div>
<div class="t c" style="transform:translate(900.50px,1194.60px) rotate(.03deg);width:92.80px;font-size:17.20px;">5.000</div>
<div class="t c" style="transform:translate(994.20px,1194.60px) rotate(.03deg);width:94.20px;font-size:17.20px;">5.000</div>
<div class="t c" style="transform:translate(1088.10px,1194.60px) rotate(.03deg);width:92.30px;font-size:17.20px;">5.000</div>
<div class="t " style="transform:translate(98.90px,1215.70px) rotate(.03deg);font-size:17.56px;">- Tomat Sayur</div>
<div class="t c" style="transform:translate(375.70px,1215.70px) rotate(.03deg);width:42.00px;font-size:17.50px;">Kg</div>
<div class="t c" style="transform:translate(417.90px,1215.60px) rotate(.03deg);width:96.30px;font-size:17.20px;letter-spacing:-0.15px;">10.000</div>
<div class="t c" style="transform:translate(514.20px,1215.60px) rotate(.03deg);width:97.60px;font-size:17.20px;letter-spacing:-0.15px;">10.000</div>
<div class="t c" style="transform:translate(611.80px,1215.60px) rotate(.03deg);width:96.10px;font-size:17.20px;letter-spacing:-0.15px;">12.000</div>
<div class="t c" style="transform:translate(707.90px,1215.60px) rotate(.03deg);width:96.30px;font-size:17.20px;letter-spacing:-0.15px;">10.000</div>
<div class="t c" style="transform:translate(804.00px,1215.60px) rotate(.03deg);width:97.70px;font-size:17.20px;">9.000</div>
<div class="t c" style="transform:translate(900.50px,1215.60px) rotate(.03deg);width:92.80px;font-size:17.20px;">8.000</div>
<div class="t c" style="transform:translate(994.70px,1215.60px) rotate(.03deg);width:94.20px;font-size:17.20px;letter-spacing:-0.15px;">10.000</div>
<div class="t c" style="transform:translate(1087.90px,1215.60px) rotate(.03deg);width:92.30px;font-size:17.20px;letter-spacing:-0.15px;">10.000</div>
<div class="t " style="transform:translate(98.90px,1236.70px) rotate(.03deg);font-size:17.44px;">- Kedelai</div>
<div class="t c" style="transform:translate(375.70px,1236.70px) rotate(.03deg);width:42.00px;font-size:17.50px;">Kg</div>
<div class="t c" style="transform:translate(416.90px,1236.60px) rotate(.03deg);width:96.30px;font-size:17.20px;">9.800</div>
<div class="t c" style="transform:translate(513.20px,1236.60px) rotate(.03deg);width:97.60px;font-size:17.20px;">9.800</div>
<div class="t c" style="transform:translate(610.80px,1236.60px) rotate(.03deg);width:96.10px;font-size:17.20px;">9.400</div>
<div class="t c" style="transform:translate(706.90px,1236.60px) rotate(.03deg);width:96.30px;font-size:17.20px;">9.400</div>
<div class="t c" style="transform:translate(804.00px,1236.60px) rotate(.03deg);width:97.70px;font-size:17.20px;">9.400</div>
<div class="t c" style="transform:translate(900.50px,1236.60px) rotate(.03deg);width:92.80px;font-size:17.20px;">9.400</div>
<div class="t c" style="transform:translate(994.20px,1236.60px) rotate(.03deg);width:94.20px;font-size:17.20px;">8.600</div>
<div class="t c" style="transform:translate(1088.10px,1236.60px) rotate(.03deg);width:92.30px;font-size:17.20px;">8.600</div>
<div class="t " style="transform:translate(98.90px,1257.70px) rotate(.03deg);font-size:17.54px;">- Kacang Tanah</div>
<div class="t c" style="transform:translate(375.70px,1257.70px) rotate(.03deg);width:42.00px;font-size:17.50px;">Kg</div>
<div class="t c" style="transform:translate(417.90px,1257.60px) rotate(.03deg);width:96.30px;font-size:17.20px;letter-spacing:-0.15px;">28.000</div>
<div class="t c" style="transform:translate(514.20px,1257.60px) rotate(.03deg);width:97.60px;font-size:17.20px;letter-spacing:-0.15px;">28.000</div>
<div class="t c" style="transform:translate(611.80px,1257.60px) rotate(.03deg);width:96.10px;font-size:17.20px;letter-spacing:-0.15px;">28.000</div>
<div class="t c" style="transform:translate(707.90px,1257.60px) rotate(.03deg);width:96.30px;font-size:17.20px;letter-spacing:-0.15px;">28.000</div>
<div class="t c" style="transform:translate(804.20px,1257.60px) rotate(.03deg);width:97.70px;font-size:17.20px;letter-spacing:-0.15px;">28.000</div>
<div class="t c" style="transform:translate(900.70px,1257.60px) rotate(.03deg);width:92.80px;font-size:17.20px;letter-spacing:-0.15px;">28.000</div>
<div class="t c" style="transform:translate(994.70px,1257.60px) rotate(.03deg);width:94.20px;font-size:17.20px;letter-spacing:-0.15px;">28.000</div>
<div class="t c" style="transform:translate(1087.90px,1257.60px) rotate(.03deg);width:92.30px;font-size:17.20px;letter-spacing:-0.15px;">28.000</div>
<div class="t " style="transform:translate(98.90px,1278.70px) rotate(.03deg);font-size:17.61px;">- Kacang Hijau</div>
<div class="t c" style="transform:translate(375.70px,1278.70px) rotate(.03deg);width:42.00px;font-size:17.50px;">Kg</div>
<div class="t c" style="transform:translate(417.90px,1278.60px) rotate(.03deg);width:96.30px;font-size:17.20px;letter-spacing:-0.15px;">30.000</div>
<div class="t c" style="transform:translate(514.20px,1278.60px) rotate(.03deg);width:97.60px;font-size:17.20px;letter-spacing:-0.15px;">30.000</div>
<div class="t c" style="transform:translate(611.80px,1278.60px) rotate(.03deg);width:96.10px;font-size:17.20px;letter-spacing:-0.15px;">34.000</div>
<div class="t c" style="transform:translate(707.90px,1278.60px) rotate(.03deg);width:96.30px;font-size:17.20px;letter-spacing:-0.15px;">34.000</div>
<div class="t c" style="transform:translate(804.20px,1278.60px) rotate(.03deg);width:97.70px;font-size:17.20px;letter-spacing:-0.15px;">38.000</div>
<div class="t c" style="transform:translate(900.70px,1278.60px) rotate(.03deg);width:92.80px;font-size:17.20px;letter-spacing:-0.15px;">38.000</div>
<div class="t c" style="transform:translate(994.70px,1278.60px) rotate(.03deg);width:94.20px;font-size:17.20px;letter-spacing:-0.15px;">30.000</div>
<div class="t c" style="transform:translate(1087.90px,1278.60px) rotate(.03deg);width:92.30px;font-size:17.20px;letter-spacing:-0.15px;">30.000</div>
<div class="t " style="transform:translate(98.90px,1298.70px) rotate(.03deg);font-size:17.64px;">- Ketela Pohon</div>
<div class="t c" style="transform:translate(375.70px,1298.70px) rotate(.03deg);width:42.00px;font-size:17.50px;">Kg</div>
<div class="t c" style="transform:translate(416.90px,1298.60px) rotate(.03deg);width:96.30px;font-size:17.20px;">3.500</div>
<div class="t c" style="transform:translate(513.20px,1298.60px) rotate(.03deg);width:97.60px;font-size:17.20px;">3.500</div>
<div class="t c" style="transform:translate(610.80px,1298.60px) rotate(.03deg);width:96.10px;font-size:17.20px;">3.000</div>
<div class="t c" style="transform:translate(706.90px,1298.60px) rotate(.03deg);width:96.30px;font-size:17.20px;">3.000</div>
<div class="t c" style="transform:translate(804.00px,1298.60px) rotate(.03deg);width:97.70px;font-size:17.20px;">3.500</div>
<div class="t c" style="transform:translate(900.50px,1298.60px) rotate(.03deg);width:92.80px;font-size:17.20px;">3.500</div>
<div class="t c" style="transform:translate(994.20px,1298.60px) rotate(.03deg);width:94.20px;font-size:17.20px;">5.000</div>
<div class="t c" style="transform:translate(1088.10px,1298.60px) rotate(.03deg);width:92.30px;font-size:17.20px;">5.000</div>
<div class="t b c" style="transform:translate(59.60px,1318.70px) rotate(.03deg);width:36.00px;font-size:17.50px;">14</div>
<div class="t b" style="transform:translate(99.30px,1318.70px) rotate(.03deg);font-size:17.26px;">SEMEN</div>
<div class="t " style="transform:translate(98.90px,1340.70px) rotate(.03deg);font-size:17.68px;">- Gresik 40 Kg</div>
<div class="t c" style="transform:translate(375.70px,1340.70px) rotate(.03deg);width:42.00px;font-size:17.50px;">Zak</div>
<div class="t c" style="transform:translate(417.90px,1340.60px) rotate(.03deg);width:96.30px;font-size:17.20px;letter-spacing:-0.15px;">51.000</div>
<div class="t c" style="transform:translate(514.20px,1340.60px) rotate(.03deg);width:97.60px;font-size:17.20px;letter-spacing:-0.15px;">51.000</div>
<div class="t c" style="transform:translate(611.80px,1340.60px) rotate(.03deg);width:96.10px;font-size:17.20px;letter-spacing:-0.15px;">51.000</div>
<div class="t c" style="transform:translate(707.90px,1340.60px) rotate(.03deg);width:96.30px;font-size:17.20px;letter-spacing:-0.15px;">51.000</div>
<div class="t c" style="transform:translate(804.20px,1340.60px) rotate(.03deg);width:97.70px;font-size:17.20px;letter-spacing:-0.15px;">51.000</div>
<div class="t c" style="transform:translate(900.70px,1340.60px) rotate(.03deg);width:92.80px;font-size:17.20px;letter-spacing:-0.15px;">51.000</div>
<div class="t c" style="transform:translate(994.70px,1340.60px) rotate(.03deg);width:94.20px;font-size:17.20px;letter-spacing:-0.15px;">50.000</div>
<div class="t c" style="transform:translate(1087.90px,1340.60px) rotate(.03deg);width:92.30px;font-size:17.20px;letter-spacing:-0.15px;">50.000</div>
<div class="t " style="transform:translate(98.90px,1361.70px) rotate(.03deg);font-size:17.49px;">- Tiga Roda 40 Kg</div>
<div class="t c" style="transform:translate(375.70px,1361.70px) rotate(.03deg);width:42.00px;font-size:17.50px;">Zak</div>
<div class="t c" style="transform:translate(417.90px,1361.60px) rotate(.03deg);width:96.30px;font-size:17.20px;letter-spacing:-0.15px;">47.000</div>
<div class="t c" style="transform:translate(514.20px,1361.60px) rotate(.03deg);width:97.60px;font-size:17.20px;letter-spacing:-0.15px;">47.000</div>
<div class="t c" style="transform:translate(611.80px,1361.60px) rotate(.03deg);width:96.10px;font-size:17.20px;letter-spacing:-0.15px;">47.000</div>
<div class="t c" style="transform:translate(707.90px,1361.60px) rotate(.03deg);width:96.30px;font-size:17.20px;letter-spacing:-0.15px;">47.000</div>
<div class="t c" style="transform:translate(804.20px,1361.60px) rotate(.03deg);width:97.70px;font-size:17.20px;letter-spacing:-0.15px;">47.000</div>
<div class="t c" style="transform:translate(900.70px,1361.60px) rotate(.03deg);width:92.80px;font-size:17.20px;letter-spacing:-0.15px;">47.000</div>
<div class="t c" style="transform:translate(994.70px,1361.60px) rotate(.03deg);width:94.20px;font-size:17.20px;letter-spacing:-0.15px;">47.000</div>
<div class="t c" style="transform:translate(1087.90px,1361.60px) rotate(.03deg);width:92.30px;font-size:17.20px;letter-spacing:-0.15px;">47.000</div>
<div class="t b c" style="transform:translate(59.60px,1393.70px) rotate(.03deg);width:36.00px;font-size:17.50px;">15</div>
<div class="t b" style="transform:translate(99.30px,1393.70px) rotate(.03deg);font-size:17.19px;">PUPUK</div>
<div class="t " style="transform:translate(98.90px,1415.70px) rotate(.03deg);font-size:17.46px;">- UREA PUSRI</div>
<div class="t c" style="transform:translate(375.70px,1415.70px) rotate(.03deg);width:42.00px;font-size:17.50px;">Kw</div>
<div class="t c" style="transform:translate(417.90px,1415.60px) rotate(.03deg);width:96.30px;font-size:17.20px;letter-spacing:-0.15px;">225.000</div>
<div class="t c" style="transform:translate(514.20px,1415.60px) rotate(.03deg);width:97.60px;font-size:17.20px;letter-spacing:-0.15px;">225.000</div>
<div class="t c" style="transform:translate(611.80px,1415.60px) rotate(.03deg);width:96.10px;font-size:17.20px;letter-spacing:-0.15px;">225.000</div>
<div class="t c" style="transform:translate(707.90px,1415.60px) rotate(.03deg);width:96.30px;font-size:17.20px;letter-spacing:-0.15px;">225.000</div>
<div class="t c" style="transform:translate(804.20px,1415.60px) rotate(.03deg);width:97.70px;font-size:17.20px;letter-spacing:-0.15px;">225.000</div>
<div class="t c" style="transform:translate(900.70px,1415.60px) rotate(.03deg);width:92.80px;font-size:17.20px;letter-spacing:-0.15px;">225.000</div>
<div class="t c" style="transform:translate(994.70px,1415.60px) rotate(.03deg);width:94.20px;font-size:17.20px;letter-spacing:-0.15px;">225.000</div>
<div class="t c" style="transform:translate(1087.90px,1415.60px) rotate(.03deg);width:92.30px;font-size:17.20px;letter-spacing:-0.15px;">225.000</div>
<div class="t " style="transform:translate(98.90px,1436.70px) rotate(.03deg);font-size:17.33px;">- ZA</div>
<div class="t c" style="transform:translate(375.70px,1436.70px) rotate(.03deg);width:42.00px;font-size:17.50px;">Kw</div>
<div class="t c" style="transform:translate(417.90px,1436.60px) rotate(.03deg);width:96.30px;font-size:17.20px;letter-spacing:-0.15px;">170.000</div>
<div class="t c" style="transform:translate(514.20px,1436.60px) rotate(.03deg);width:97.60px;font-size:17.20px;letter-spacing:-0.15px;">170.000</div>
<div class="t c" style="transform:translate(611.80px,1436.60px) rotate(.03deg);width:96.10px;font-size:17.20px;letter-spacing:-0.15px;">170.000</div>
<div class="t c" style="transform:translate(707.90px,1436.60px) rotate(.03deg);width:96.30px;font-size:17.20px;letter-spacing:-0.15px;">170.000</div>
<div class="t c" style="transform:translate(804.20px,1436.60px) rotate(.03deg);width:97.70px;font-size:17.20px;letter-spacing:-0.15px;">170.000</div>
<div class="t c" style="transform:translate(900.70px,1436.60px) rotate(.03deg);width:92.80px;font-size:17.20px;letter-spacing:-0.15px;">170.000</div>
<div class="t c" style="transform:translate(994.70px,1436.60px) rotate(.03deg);width:94.20px;font-size:17.20px;letter-spacing:-0.15px;">170.000</div>
<div class="t c" style="transform:translate(1087.90px,1436.60px) rotate(.03deg);width:92.30px;font-size:17.20px;letter-spacing:-0.15px;">170.000</div>
<div class="t " style="transform:translate(98.90px,1457.70px) rotate(.03deg);font-size:17.32px;">- SP 36</div>
<div class="t c" style="transform:translate(375.70px,1457.70px) rotate(.03deg);width:42.00px;font-size:17.50px;">Kw</div>
<div class="t c" style="transform:translate(417.90px,1457.60px) rotate(.03deg);width:96.30px;font-size:17.20px;letter-spacing:-0.15px;">240.000</div>
<div class="t c" style="transform:translate(514.20px,1457.60px) rotate(.03deg);width:97.60px;font-size:17.20px;letter-spacing:-0.15px;">240.000</div>
<div class="t c" style="transform:translate(611.80px,1457.60px) rotate(.03deg);width:96.10px;font-size:17.20px;letter-spacing:-0.15px;">240.000</div>
<div class="t c" style="transform:translate(707.90px,1457.60px) rotate(.03deg);width:96.30px;font-size:17.20px;letter-spacing:-0.15px;">240.000</div>
<div class="t c" style="transform:translate(804.20px,1457.60px) rotate(.03deg);width:97.70px;font-size:17.20px;letter-spacing:-0.15px;">240.000</div>
<div class="t c" style="transform:translate(900.70px,1457.60px) rotate(.03deg);width:92.80px;font-size:17.20px;letter-spacing:-0.15px;">240.000</div>
<div class="t c" style="transform:translate(994.70px,1457.60px) rotate(.03deg);width:94.20px;font-size:17.20px;letter-spacing:-0.15px;">240.000</div>
<div class="t c" style="transform:translate(1087.90px,1457.60px) rotate(.03deg);width:92.30px;font-size:17.20px;letter-spacing:-0.15px;">240.000</div>
<div class="t " style="transform:translate(98.90px,1478.70px) rotate(.03deg);font-size:17.72px;">- KCL</div>
<div class="t c" style="transform:translate(375.70px,1478.70px) rotate(.03deg);width:42.00px;font-size:17.50px;">Kw</div>
<div class="t c" style="transform:translate(417.90px,1478.60px) rotate(.03deg);width:96.30px;font-size:17.20px;letter-spacing:-0.15px;">200.000</div>
<div class="t c" style="transform:translate(514.20px,1478.60px) rotate(.03deg);width:97.60px;font-size:17.20px;letter-spacing:-0.15px;">200.000</div>
<div class="t c" style="transform:translate(611.80px,1478.60px) rotate(.03deg);width:96.10px;font-size:17.20px;letter-spacing:-0.15px;">200.000</div>
<div class="t c" style="transform:translate(707.90px,1478.60px) rotate(.03deg);width:96.30px;font-size:17.20px;letter-spacing:-0.15px;">200.000</div>
<div class="t c" style="transform:translate(804.20px,1478.60px) rotate(.03deg);width:97.70px;font-size:17.20px;letter-spacing:-0.15px;">200.000</div>
<div class="t c" style="transform:translate(900.70px,1478.60px) rotate(.03deg);width:92.80px;font-size:17.20px;letter-spacing:-0.15px;">200.000</div>
<div class="t c" style="transform:translate(994.70px,1478.60px) rotate(.03deg);width:94.20px;font-size:17.20px;letter-spacing:-0.15px;">200.000</div>
<div class="t c" style="transform:translate(1087.90px,1478.60px) rotate(.03deg);width:92.30px;font-size:17.20px;letter-spacing:-0.15px;">200.000</div>
<div class="t " style="transform:translate(98.90px,1499.70px) rotate(.03deg);font-size:17.37px;">- PHONSKA</div>
<div class="t c" style="transform:translate(375.70px,1499.70px) rotate(.03deg);width:42.00px;font-size:17.50px;">Kw</div>
<div class="t c" style="transform:translate(417.90px,1499.60px) rotate(.03deg);width:96.30px;font-size:17.20px;letter-spacing:-0.15px;">230.000</div>
<div class="t c" style="transform:translate(514.20px,1499.60px) rotate(.03deg);width:97.60px;font-size:17.20px;letter-spacing:-0.15px;">230.000</div>
<div class="t c" style="transform:translate(611.80px,1499.60px) rotate(.03deg);width:96.10px;font-size:17.20px;letter-spacing:-0.15px;">230.000</div>
<div class="t c" style="transform:translate(707.90px,1499.60px) rotate(.03deg);width:96.30px;font-size:17.20px;letter-spacing:-0.15px;">230.000</div>
<div class="t c" style="transform:translate(804.20px,1499.60px) rotate(.03deg);width:97.70px;font-size:17.20px;letter-spacing:-0.15px;">230.000</div>
<div class="t c" style="transform:translate(900.70px,1499.60px) rotate(.03deg);width:92.80px;font-size:17.20px;letter-spacing:-0.15px;">230.000</div>
<div class="t c" style="transform:translate(994.70px,1499.60px) rotate(.03deg);width:94.20px;font-size:17.20px;letter-spacing:-0.15px;">230.000</div>
<div class="t c" style="transform:translate(1087.90px,1499.60px) rotate(.03deg);width:92.30px;font-size:17.20px;letter-spacing:-0.15px;">230.000</div>
<div class="t b c" style="transform:translate(59.60px,1531.70px) rotate(.03deg);width:36.00px;font-size:17.50px;">16</div>
<div class="t b" style="transform:translate(99.30px,1531.70px) rotate(.03deg);font-size:17.63px;">BESI BETON</div>
<div class="t " style="transform:translate(98.90px,1553.70px) rotate(.03deg);font-size:17.64px;">- Uk. 6 mm</div>
<div class="t c" style="transform:translate(375.70px,1553.70px) rotate(.03deg);width:42.00px;font-size:17.50px;">Ljr</div>
<div class="t c" style="transform:translate(417.90px,1553.60px) rotate(.03deg);width:96.30px;font-size:17.20px;letter-spacing:-0.15px;">25.000</div>
<div class="t c" style="transform:translate(514.20px,1553.60px) rotate(.03deg);width:97.60px;font-size:17.20px;letter-spacing:-0.15px;">25.000</div>
<div class="t c" style="transform:translate(611.80px,1553.60px) rotate(.03deg);width:96.10px;font-size:17.20px;letter-spacing:-0.15px;">30.000</div>
<div class="t c" style="transform:translate(707.90px,1553.60px) rotate(.03deg);width:96.30px;font-size:17.20px;letter-spacing:-0.15px;">30.000</div>
<div class="t c" style="transform:translate(804.20px,1553.60px) rotate(.03deg);width:97.70px;font-size:17.20px;letter-spacing:-0.15px;">30.000</div>
<div class="t c" style="transform:translate(900.70px,1553.60px) rotate(.03deg);width:92.80px;font-size:17.20px;letter-spacing:-0.15px;">30.000</div>
<div class="t c" style="transform:translate(994.70px,1553.60px) rotate(.03deg);width:94.20px;font-size:17.20px;letter-spacing:-0.15px;">30.000</div>
<div class="t c" style="transform:translate(1087.90px,1553.60px) rotate(.03deg);width:92.30px;font-size:17.20px;letter-spacing:-0.15px;">30.000</div>
<div class="t " style="transform:translate(98.90px,1574.70px) rotate(.03deg);font-size:17.60px;">- Uk. 8 mm</div>
<div class="t c" style="transform:translate(375.70px,1574.70px) rotate(.03deg);width:42.00px;font-size:17.50px;">Ljr</div>
<div class="t c" style="transform:translate(417.90px,1574.60px) rotate(.03deg);width:96.30px;font-size:17.20px;letter-spacing:-0.15px;">40.000</div>
<div class="t c" style="transform:translate(514.20px,1574.60px) rotate(.03deg);width:97.60px;font-size:17.20px;letter-spacing:-0.15px;">40.000</div>
<div class="t c" style="transform:translate(611.80px,1574.60px) rotate(.03deg);width:96.10px;font-size:17.20px;letter-spacing:-0.15px;">49.000</div>
<div class="t c" style="transform:translate(707.90px,1574.60px) rotate(.03deg);width:96.30px;font-size:17.20px;letter-spacing:-0.15px;">49.000</div>
<div class="t c" style="transform:translate(804.20px,1574.60px) rotate(.03deg);width:97.70px;font-size:17.20px;letter-spacing:-0.15px;">49.000</div>
<div class="t c" style="transform:translate(900.70px,1574.60px) rotate(.03deg);width:92.80px;font-size:17.20px;letter-spacing:-0.15px;">49.000</div>
<div class="t c" style="transform:translate(994.70px,1574.60px) rotate(.03deg);width:94.20px;font-size:17.20px;letter-spacing:-0.15px;">49.000</div>
<div class="t c" style="transform:translate(1087.90px,1574.60px) rotate(.03deg);width:92.30px;font-size:17.20px;letter-spacing:-0.15px;">49.000</div>
<div class="t " style="transform:translate(98.90px,1594.70px) rotate(.03deg);font-size:17.60px;">- Uk. 10 mm ( 12 m)</div>
<div class="t c" style="transform:translate(375.70px,1594.70px) rotate(.03deg);width:42.00px;font-size:17.50px;">Ljr</div>
<div class="t c" style="transform:translate(417.90px,1594.80px) rotate(.03deg);width:96.30px;font-size:17.20px;letter-spacing:-0.15px;">65.000</div>
<div class="t c" style="transform:translate(514.20px,1594.80px) rotate(.03deg);width:97.60px;font-size:17.20px;letter-spacing:-0.15px;">65.000</div>
<div class="t c" style="transform:translate(611.80px,1594.80px) rotate(.03deg);width:96.10px;font-size:17.20px;letter-spacing:-0.15px;">70.000</div>
<div class="t c" style="transform:translate(707.90px,1594.80px) rotate(.03deg);width:96.30px;font-size:17.20px;letter-spacing:-0.15px;">70.000</div>
<div class="t c" style="transform:translate(804.20px,1594.80px) rotate(.03deg);width:97.70px;font-size:17.20px;letter-spacing:-0.15px;">70.000</div>
<div class="t c" style="transform:translate(900.70px,1594.80px) rotate(.03deg);width:92.80px;font-size:17.20px;letter-spacing:-0.15px;">70.000</div>
<div class="t c" style="transform:translate(994.70px,1594.80px) rotate(.03deg);width:94.20px;font-size:17.20px;letter-spacing:-0.15px;">70.000</div>
<div class="t c" style="transform:translate(1087.90px,1594.80px) rotate(.03deg);width:92.30px;font-size:17.20px;letter-spacing:-0.15px;">70.000</div>
<div class="t " style="transform:translate(98.90px,1619.70px) rotate(.03deg);font-size:17.60px;">- Uk. 12 mm ( 12 m)</div>
<div class="t c" style="transform:translate(375.70px,1619.70px) rotate(.03deg);width:42.00px;font-size:17.50px;">Ljr</div>
<div class="t c" style="transform:translate(417.90px,1619.50px) rotate(.03deg);width:96.30px;font-size:17.20px;letter-spacing:-0.15px;">88.000</div>
<div class="t c" style="transform:translate(514.20px,1619.50px) rotate(.03deg);width:97.60px;font-size:17.20px;letter-spacing:-0.15px;">88.000</div>
<div class="t c" style="transform:translate(611.80px,1619.50px) rotate(.03deg);width:96.10px;font-size:17.20px;letter-spacing:-0.15px;">73.000</div>
<div class="t c" style="transform:translate(707.90px,1619.50px) rotate(.03deg);width:96.30px;font-size:17.20px;letter-spacing:-0.15px;">73.000</div>
<div class="t c" style="transform:translate(804.20px,1619.50px) rotate(.03deg);width:97.70px;font-size:17.20px;letter-spacing:-0.15px;">73.000</div>
<div class="t c" style="transform:translate(900.70px,1619.50px) rotate(.03deg);width:92.80px;font-size:17.20px;letter-spacing:-0.15px;">73.000</div>
<div class="t c" style="transform:translate(994.70px,1619.50px) rotate(.03deg);width:94.20px;font-size:17.20px;letter-spacing:-0.15px;">73.000</div>
<div class="t c" style="transform:translate(1087.90px,1619.50px) rotate(.03deg);width:92.30px;font-size:17.20px;letter-spacing:-0.15px;">73.000</div>
</body></html>
